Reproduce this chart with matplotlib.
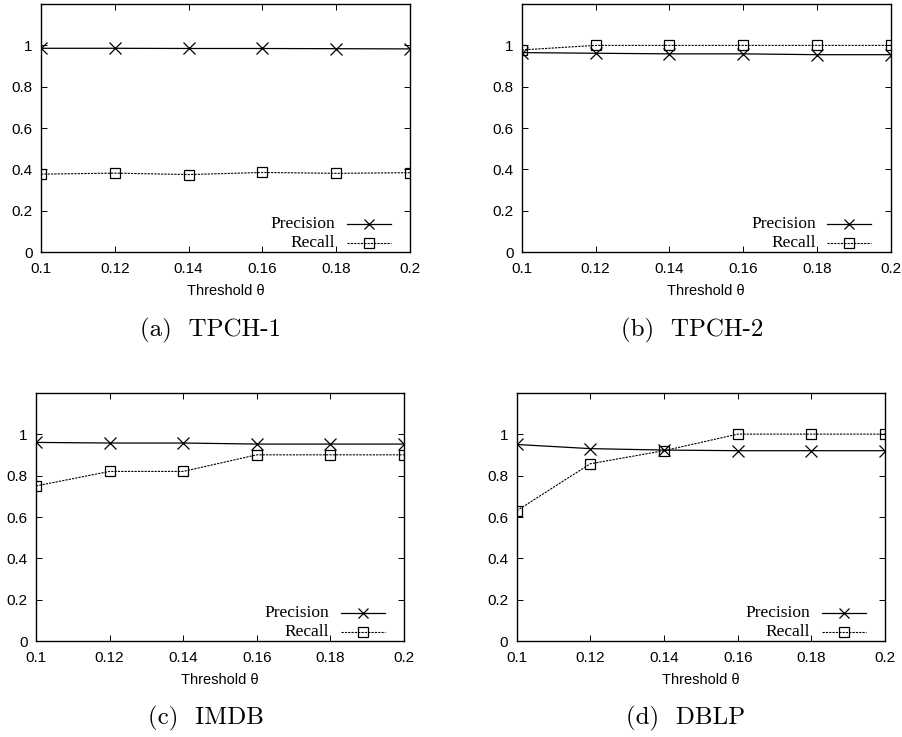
import matplotlib
matplotlib.use("Agg")
import matplotlib.pyplot as plt

thresholds = [0.1, 0.12, 0.14, 0.16, 0.18, 0.2]

tpch1_precision = [0.986, 0.986, 0.985, 0.985, 0.984, 0.983]
tpch1_recall = [0.377, 0.382, 0.375, 0.385, 0.381, 0.384]

tpch2_precision = [0.965, 0.962, 0.959, 0.959, 0.955, 0.955]
tpch2_recall = [0.978, 1.0, 1.0, 1.0, 1.0, 1.0]

imdb_precision = [0.96, 0.957, 0.957, 0.952, 0.952, 0.952]
imdb_recall = [0.75, 0.82, 0.82, 0.90, 0.90, 0.90]

dblp_precision = [0.95, 0.93, 0.923, 0.92, 0.92, 0.92]
dblp_recall = [0.63, 0.857, 0.92, 1.0, 1.0, 1.0]

captions = ["(a)  TPCH-1", "(b)  TPCH-2", "(c)  IMDB", "(d)  DBLP"]
x_ticks = [0.1, 0.12, 0.14, 0.16, 0.18, 0.2]
x_tick_labels = ["0.1", "0.12", "0.14", "0.16", "0.18", "0.2"]
y_ticks = [0, 0.2, 0.4, 0.6, 0.8, 1.0]
y_tick_labels = ["0", "0.2", "0.4", "0.6", "0.8", "1"]

panels = [
    (tpch1_precision, tpch1_recall),
    (tpch2_precision, tpch2_recall),
    (imdb_precision, imdb_recall),
    (dblp_precision, dblp_recall),
]

# axes boxes in figure fractions: left, bottom, width, height
boxes = [
    (0.0455, 0.658, 0.409, 0.3365),
    (0.5784, 0.658, 0.409, 0.3365),
    (0.0399, 0.1298, 0.408, 0.3374),
    (0.5728, 0.1298, 0.4085, 0.3374),
]
caption_pos = [(211, 330), (691.7, 330), (206, 718), (685.7, 718)]

W, H = 902, 737
fig = plt.figure(figsize=(W / 100, H / 100), dpi=100)

sans = "Liberation Sans"
serif = "Liberation Serif"

prec_style = dict(color="black", lw=0.9, marker="x", mew=0.9)
rec_style = dict(color="black", lw=0.8, ls=(0, (2, 1)), marker="s",
                 mfc="none", mew=0.9)

for (prec, rec), box, cap, (cx, cy) in zip(panels, boxes, captions, caption_pos):
    ax = fig.add_axes(box)
    ax.plot(thresholds, prec, ms=8, **prec_style)
    ax.plot(thresholds, rec, ms=7, **rec_style)
    ax.set_xlim(0.1, 0.2)
    ax.set_ylim(0, 1.2)
    ax.set_xticks(x_ticks)
    ax.set_xticklabels(x_tick_labels, family=sans, fontsize=11)
    ax.set_yticks(y_ticks)
    ax.set_yticklabels(y_tick_labels, family=sans, fontsize=11)
    ax.tick_params(direction="in", top=True, right=True, length=4,
                   width=0.7)
    ax.tick_params(axis="x", pad=7)
    ax.tick_params(axis="y", pad=6)
    for sp in ax.spines.values():
        sp.set_linewidth(1.0)
    ax.set_xlabel("Threshold θ", family=sans, fontsize=10.5, labelpad=6)

    # gnuplot-style key: right-aligned labels, sample line to the right
    for name, style, ky in (("Precision", prec_style, 0.113),
                            ("Recall", rec_style, 0.038)):
        ax.text(0.797, ky, name, transform=ax.transAxes, family=serif,
                fontsize=12.5, ha="right", va="center")
        ax.plot([0.828, 0.948], [ky, ky], transform=ax.transAxes,
                clip_on=False, **{k: v for k, v in style.items() if k != "marker"})
        ax.plot([0.888], [ky], transform=ax.transAxes, ls="none", ms=7,
                clip_on=False, **{k: v for k, v in style.items() if k != "ls"})

    fig.text(cx / W, 1 - cy / H, cap, family="cmr10", fontsize=18,
             ha="center", va="center")

fig.savefig("out.png", dpi=100)
